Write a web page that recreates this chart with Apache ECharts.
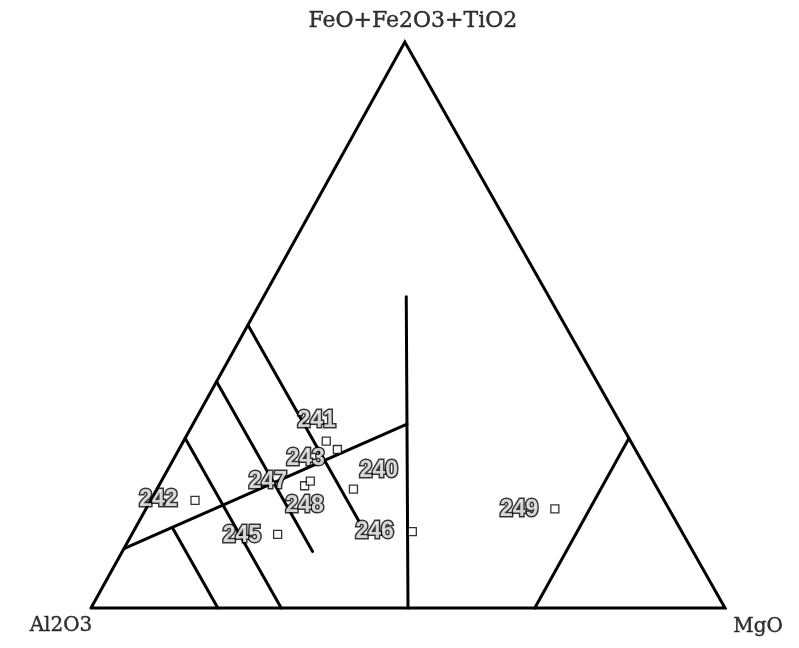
<!DOCTYPE html>
<html>
<head>
<meta charset="utf-8">
<script src="https://cdn.jsdelivr.net/npm/echarts/dist/echarts.min.js"></script>
<style>
  html, body { margin: 0; padding: 0; background: #fff; }
  #chart { width: 799px; height: 648px; }
</style>
</head>
<body>
<div id="chart"></div>
<script>
// Ternary end-members: bottom-left, top, bottom-right
const vertexNames = ['Al2O3', 'FeO+Fe2O3+TiO2', 'MgO'];

// Sample compositions (fractions of the three end-members)
const sampleIds = ['240', '241', '242', '243', '245', '246', '247', '248', '249'];
const al2o3 = [0.48, 0.48, 0.74, 0.47, 0.64, 0.425, 0.554, 0.541, 0.18];
const feTi  = [0.21, 0.295, 0.19, 0.28, 0.13, 0.135, 0.216, 0.224, 0.175];
const mgo   = [0.31, 0.225, 0.07, 0.25, 0.23, 0.44, 0.23, 0.235, 0.645];

// Outline of the diagram, as [Al2O3, FeO+Fe2O3+TiO2, MgO]
const frame = [[1, 0, 0], [0, 1, 0], [0, 0, 1], [1, 0, 0]];

// Field boundaries, each a pair of [Al2O3, FeO+Fe2O3+TiO2, MgO] end points
const fieldLines = [
  [[0.895, 0.105, 0], [0.3375, 0.325, 0.3375]],
  [[0.5, 0.5, 0], [0.5, 0.15, 0.35]],
  [[0.6, 0.4, 0], [0.6, 0.1, 0.3]],
  [[0.7, 0.3, 0], [0.7, 0, 0.3]],
  [[0.8, 0.1425, 0.0575], [0.8, 0, 0.2]],
  [[0.225, 0.55, 0.225], [0.5, 0, 0.5]],
  [[0, 0.3, 0.7], [0.3, 0, 0.7]]
];

// Label placement around each sample marker (pixels from the marker centre)
const labelOffsets = [[26, -18], [-9, -20], [-36, 0], [-31, 10], [-35, 2], [-37, 1], [-36, -3], [-5, 25], [-35, 1]];

// Top vertex sits slightly left of the base midpoint
const APEX = 0.495;
function toXY(p) {
  const s = p[0] + p[1] + p[2];
  const f = p[1] / s, m = p[2] / s;
  return [m + APEX * f, f];
}

const lineStyle = { color: '#000', width: 3, cap: 'round', join: 'miter' };
const lineSeries = [frame].concat(fieldLines).map(pts => ({
  type: 'line',
  data: pts.map(toXY),
  symbol: 'none',
  clip: false,
  silent: true,
  lineStyle: lineStyle,
  z: 2
}));

const MARK = 8;
const sampleSeries = {
  type: 'scatter',
  symbol: 'rect',
  symbolSize: MARK,
  clip: false,
  itemStyle: { color: '#fff', borderColor: '#000', borderWidth: 1.3 },
  label: {
    show: true,
    formatter: '{b}',
    align: 'center',
    verticalAlign: 'middle',
    color: '#fff',
    textBorderColor: '#000',
    textBorderWidth: 3,
    fontFamily: 'Liberation Sans',
    fontWeight: 'bold',
    fontSize: 23
  },
  data: sampleIds.map((id, i) => ({
    name: id,
    value: toXY([al2o3[i], feTi[i], mgo[i]]),
    label: { position: [MARK / 2 + labelOffsets[i][0], MARK / 2 + labelOffsets[i][1]] }
  })),
  z: 5
};

const vertexOffsets = [[-30, 18], [8, -21], [33, 19]];
const vertexSizes = [20, 22, 20];
const vertexSeries = {
  type: 'scatter',
  symbolSize: 0,
  clip: false,
  silent: true,
  label: {
    show: true,
    position: 'inside',
    formatter: '{b}',
    color: '#000',
    textBorderColor: '#000',
    textBorderWidth: 0.4,
    fontFamily: 'DejaVu Serif',
    fontSize: 20
  },
  data: frame.slice(0, 3).map((p, i) => ({
    name: vertexNames[i],
    value: toXY(p),
    label: { offset: vertexOffsets[i], fontSize: vertexSizes[i] }
  })),
  z: 4
};

const chart = echarts.init(document.getElementById('chart'), null, { renderer: 'canvas' });
chart.setOption({
  animation: false,
  backgroundColor: '#fff',
  grid: { left: 91, right: 74, top: 42, bottom: 40, containLabel: false },
  xAxis: { type: 'value', min: 0, max: 1, show: false },
  yAxis: { type: 'value', min: 0, max: 1, show: false },
  series: lineSeries.concat([vertexSeries, sampleSeries])
});
</script>
</body>
</html>
